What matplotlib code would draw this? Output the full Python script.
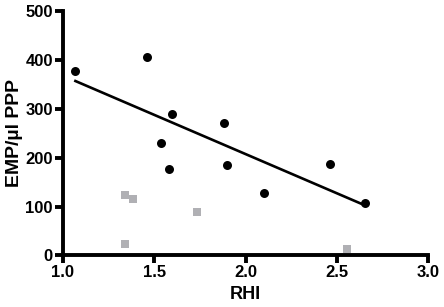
import numpy as np
from matplotlib import pyplot as plt

plt.rcParams.update({
    "font.family": "sans-serif",
    "font.sans-serif": ["Liberation Sans", "DejaVu Sans"],
    "font.weight": "bold"})

# black circles (with regression line)
rhi_a = [1.07, 1.46, 1.60, 1.54, 1.58, 1.88, 1.90, 2.10, 2.46, 2.655]
emp_a = [377, 405, 290, 230, 176, 271, 184, 128, 187, 108]

# grey squares
rhi_b = [1.34, 1.383, 1.34, 1.732, 2.555]
emp_b = [123, 115, 24, 89, 14]

fig = plt.figure(figsize=(4.44, 3.07), dpi=100)
ax = fig.add_axes([0.141, 0.168, 0.824, 0.796])

ax.scatter(rhi_b, emp_b, marker='s', s=40, color='#b0b0b4',
           linewidths=0, zorder=3, clip_on=False)
ax.scatter(rhi_a, emp_a, marker='o', s=42, color='black',
           linewidths=0, zorder=4, clip_on=False)

# linear fit over the black points
slope, icpt = np.polyfit(rhi_a, emp_a, 1)
xs = np.array([min(rhi_a), max(rhi_a)])
ax.plot(xs, slope * xs + icpt, color='black', linewidth=1.9, zorder=2)

ax.set_xlim(1.0, 3.0)
ax.set_ylim(0, 500)
ax.set_xticks([1.0, 1.5, 2.0, 2.5, 3.0])
ax.set_yticks([0, 100, 200, 300, 400, 500])
ax.set_xticklabels(['1.0', '1.5', '2.0', '2.5', '3.0'])

for s in ['top', 'right']:
    ax.spines[s].set_visible(False)
for s in ['left', 'bottom']:
    ax.spines[s].set_linewidth(2.8)

ax.tick_params(axis='both', direction='out', length=5.5, width=2.8,
               labelsize=12, pad=1.5)

ax.set_xlabel('RHI', fontsize=13, fontweight='bold', labelpad=4)
ax.set_ylabel('EMP/\u00b5l PPP', fontsize=14, fontweight='bold', labelpad=2)

plt.savefig('out.png', dpi=100)
